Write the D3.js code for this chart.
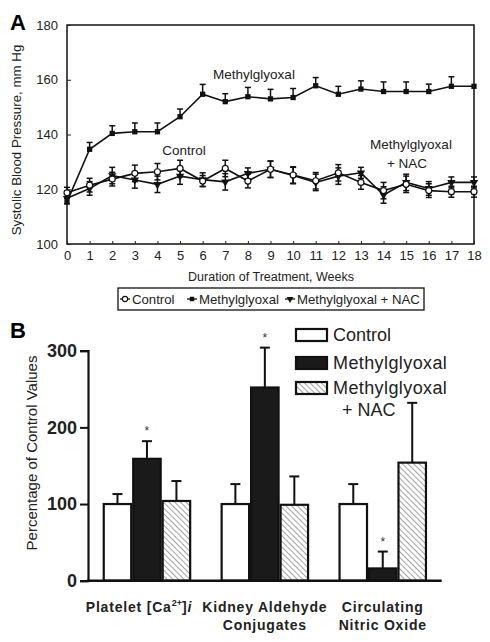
<!DOCTYPE html>
<html><head><meta charset="utf-8">
<script src="https://cdn.jsdelivr.net/npm/d3@7"></script>
<style>
body{margin:0;background:#fff;}
svg{display:block;font-family:"Liberation Sans",Arial,sans-serif;}
</style></head>
<body><svg id="c" width="490" height="642"></svg>
<script>
// ---------- Panel A data ----------
const weeks = [0,1,2,3,4,5,6,7,8,9,10,11,12,13,14,15,16,17,18];
const controlBP = [118.7,121.5,123.7,125.8,126.4,127.6,123,127.6,123,127.3,125.2,123.1,126,122.5,119.5,121.8,119.5,119.1,119.1];
const controlErr = [2,2.5,2.5,3,3,3,2,3,2.5,3,3,3,3,2.5,3,3,2.5,2,2];
const mgBP = [115.4,134.6,140.4,141,141,146.5,154.7,152,153.8,153,153.5,157.8,154.7,156.6,155.7,155.7,155.7,157.6,157.6];
const mgErr = [1.5,2.5,2.8,3.2,3.2,2.8,3.6,2.9,3.4,3.5,3.3,3,2.9,3,3.5,3.5,2.7,3.5,0];
const nacBP = [116.7,120.3,125,123.4,121.8,124.8,123.5,122.7,125.8,127.3,125,122.5,124.8,126,117.9,122.5,120.3,122.5,122.5];
const nacErr = [2,2.5,3,3,3,3,2.5,3,2,3,3,3,3,2,3,3,2.5,2,2];
const yTicksA = [100,120,140,160,180];
const legendA = ["Control","Methylglyoxal","Methylglyoxal + NAC"];

// ---------- Panel B data ----------
const groupsB = ["Platelet","Kidney","Circulating"];
const seriesB = ["Control","Methylglyoxal","Methylglyoxal + NAC"];
const controlPct = [100,100,100];
const controlPctErr = [13,26,26];
const mgPct = [159,252,16];
const mgPctErr = [23,52,22];
const nacPct = [104,99,154];
const nacPctErr = [26,37,78];
const yTicksB = [0,100,200,300];
const starsB = [true,true,true];

const svg = d3.select("#c");

// ================= PANEL A =================
const xA = d3.scaleLinear().domain([0,18]).range([67,474]);
const yA = d3.scaleLinear().domain([100,180]).range([244,25]);

svg.append("text").attr("x",10).attr("y",30).attr("font-size",22).attr("font-weight","bold").text("A");

svg.append("rect").attr("x",xA(0)).attr("y",yA(180)).attr("width",xA(18)-xA(0)).attr("height",yA(100)-yA(180))
  .attr("fill","none").attr("stroke","#111").attr("stroke-width",1.5);

const gyA = svg.append("g").attr("transform",`translate(${xA(0)},0)`)
  .call(d3.axisLeft(yA).tickValues(yTicksA).tickSize(-4).tickPadding(9));
gyA.select(".domain").remove();
gyA.selectAll("text").attr("font-size",13).attr("fill","#222").attr("font-family","Liberation Sans,Arial");
gyA.selectAll("line").attr("stroke","#222");

const gxA = svg.append("g").attr("transform",`translate(0,${yA(100)})`)
  .call(d3.axisBottom(xA).tickValues(weeks).tickSize(-3).tickPadding(7));
gxA.select(".domain").remove();
gxA.selectAll("text").attr("font-size",13).attr("fill","#222").attr("font-family","Liberation Sans,Arial");
gxA.selectAll("line").attr("stroke","#222");

svg.append("text").attr("x",271).attr("y",281).attr("text-anchor","middle").attr("font-size",12.5).attr("fill","#222")
  .text("Duration of Treatment, Weeks");
svg.append("text").attr("transform","translate(21,140) rotate(-90)").attr("text-anchor","middle").attr("font-size",13.3).attr("fill","#222")
  .text("Systolic Blood Pressure, mm Hg");

function errA(vals, errs, both){
  const g = svg.append("g").attr("stroke","#111").attr("stroke-width",1.5);
  weeks.forEach((w,i)=>{
    if(!errs[i]) return;
    const x = xA(w), top = yA(vals[i]+errs[i]), bot = both ? yA(vals[i]-errs[i]) : yA(vals[i]);
    g.append("line").attr("x1",x).attr("x2",x).attr("y1",top).attr("y2",bot);
    g.append("line").attr("x1",x-3).attr("x2",x+3).attr("y1",top).attr("y2",top);
    if(both) g.append("line").attr("x1",x-3).attr("x2",x+3).attr("y1",bot).attr("y2",bot);
  });
}
errA(controlBP, controlErr, true);
errA(nacBP, nacErr, true);
errA(mgBP, mgErr, false);

const lineA = vals => d3.line().x((d,i)=>xA(weeks[i])).y(d=>yA(d))(vals);
[controlBP, nacBP, mgBP].forEach(v=>{
  svg.append("path").attr("d",lineA(v)).attr("fill","none").attr("stroke","#111").attr("stroke-width",1.6);
});

const tri = d3.symbol().type(d3.symbolTriangle).size(30)();
const sq = d3.symbol().type(d3.symbolSquare).size(28)();
function markers(vals, kind){
  weeks.forEach((w,i)=>{
    const x = xA(w), y = yA(vals[i]);
    if(kind==="c") svg.append("circle").attr("cx",x).attr("cy",y).attr("r",3).attr("fill","#fff").attr("stroke","#111").attr("stroke-width",1.2);
    else if(kind==="s") svg.append("path").attr("d",sq).attr("transform",`translate(${x},${y})`).attr("fill","#111");
    else svg.append("path").attr("d",tri).attr("transform",`translate(${x},${y}) rotate(180)`).attr("fill","#111");
  });
}
markers(nacBP,"t");
markers(controlBP,"c");
markers(mgBP,"s");

svg.append("text").attr("x",254).attr("y",79).attr("text-anchor","middle").attr("font-size",13.5).attr("fill","#222").text("Methylglyoxal");
svg.append("text").attr("x",184).attr("y",155).attr("text-anchor","middle").attr("font-size",13.5).attr("fill","#222").text("Control");
svg.append("text").attr("x",411).attr("y",149).attr("text-anchor","middle").attr("font-size",13.5).attr("fill","#222").text("Methylglyoxal");
svg.append("text").attr("x",407).attr("y",168).attr("text-anchor","middle").attr("font-size",13.5).attr("fill","#222").text("+ NAC");

// legend A
svg.append("rect").attr("x",118).attr("y",288).attr("width",306).attr("height",22).attr("fill","#fff").attr("stroke","#111").attr("stroke-width",1.3);
const legX = [125,192,290];
const legKinds = ["c","s","t"];
legendA.forEach((name,i)=>{
  const mx = legX[i], my = 299;
  svg.append("line").attr("x1",mx-5).attr("x2",mx+5).attr("y1",my).attr("y2",my).attr("stroke","#111").attr("stroke-width",1.3);
  if(legKinds[i]==="c") svg.append("circle").attr("cx",mx).attr("cy",my).attr("r",2.6).attr("fill","#fff").attr("stroke","#111").attr("stroke-width",1.1);
  else if(legKinds[i]==="s") svg.append("path").attr("d",d3.symbol().type(d3.symbolSquare).size(20)()).attr("transform",`translate(${mx},${my})`).attr("fill","#111");
  else svg.append("path").attr("d",d3.symbol().type(d3.symbolTriangle).size(20)()).attr("transform",`translate(${mx},${my}) rotate(180)`).attr("fill","#111");
  svg.append("text").attr("x",mx+7).attr("y",my+4.5).attr("font-size",13.2).attr("fill","#222").text(name);
});

// ================= PANEL B =================
svg.append("text").attr("x",10).attr("y",338).attr("font-size",22).attr("font-weight","bold").text("B");

const defs = svg.append("defs");
const pat = defs.append("pattern").attr("id","hatch").attr("patternUnits","userSpaceOnUse").attr("width",4).attr("height",4)
  .attr("patternTransform","rotate(-45)");
pat.append("rect").attr("width",4).attr("height",4).attr("fill","#fff");
pat.append("line").attr("x1",0).attr("y1",0).attr("x2",0).attr("y2",4).attr("stroke","#555").attr("stroke-width",1.1);

const x0 = d3.scaleBand().domain(groupsB).range([88,441.7]).paddingInner(0.25).paddingOuter(0.125);
const x1 = d3.scaleBand().domain(seriesB).range([0,x0.bandwidth()]);
const yB = d3.scaleLinear().domain([0,300]).range([580.7,350.7]);

const fills = {"Control":"#fff","Methylglyoxal":"#1a1a1a","Methylglyoxal + NAC":"url(#hatch)"};
const valsB = {"Control":controlPct,"Methylglyoxal":mgPct,"Methylglyoxal + NAC":nacPct};
const errsB = {"Control":controlPctErr,"Methylglyoxal":mgPctErr,"Methylglyoxal + NAC":nacPctErr};

groupsB.forEach((g,gi)=>{
  seriesB.forEach(s=>{
    const v = valsB[s][gi], e = errsB[s][gi];
    const x = x0(g)+x1(s), w = x1.bandwidth();
    const cx = x + w/2;
    svg.append("line").attr("x1",cx).attr("x2",cx).attr("y1",yB(v)).attr("y2",yB(v+e)).attr("stroke","#111").attr("stroke-width",2);
    svg.append("line").attr("x1",cx-5).attr("x2",cx+5).attr("y1",yB(v+e)).attr("y2",yB(v+e)).attr("stroke","#111").attr("stroke-width",2);
    svg.append("rect").attr("x",x+1).attr("y",yB(v)).attr("width",w-2).attr("height",yB(0)-yB(v))
      .attr("fill",fills[s]).attr("stroke","#111").attr("stroke-width",2.2);
    if(s==="Methylglyoxal" && starsB[gi]){
      svg.append("text").attr("x",cx).attr("y",yB(v+e)-6).attr("text-anchor","middle").attr("font-size",12).attr("fill","#333").text("*");
    }
  });
});

const gyB = svg.append("g").attr("transform","translate(88,0)")
  .call(d3.axisLeft(yB).tickValues(yTicksB).tickSize(8).tickPadding(3));
gyB.select(".domain").attr("stroke","#111").attr("stroke-width",2.2);
gyB.selectAll("line").attr("stroke","#111").attr("stroke-width",2);
gyB.selectAll("text").attr("font-size",18).attr("font-weight","bold").attr("fill","#222").attr("font-family","Liberation Sans,Arial");
svg.append("line").attr("x1",87).attr("x2",441.7).attr("y1",yB(0)).attr("y2",yB(0)).attr("stroke","#111").attr("stroke-width",2.4);

svg.append("text").attr("transform","translate(37,453) rotate(-90)").attr("text-anchor","middle").attr("font-size",15).attr("fill","#222")
  .text("Percentage of Control Values");

const lab = svg.append("g").attr("font-size",14).attr("font-weight","bold").attr("fill","#222").attr("letter-spacing",0.8).attr("text-anchor","middle");
const c0 = x0(groupsB[0])+x0.bandwidth()/2, c1 = x0(groupsB[1])+x0.bandwidth()/2, c2 = x0(groupsB[2])+x0.bandwidth()/2;
const t0 = lab.append("text").attr("x",c0-8).attr("y",612);
t0.append("tspan").text("Platelet [Ca");
t0.append("tspan").attr("font-size",9).attr("dy",-6).attr("letter-spacing",0).text("2+");
t0.append("tspan").attr("dy",6).text("]");
t0.append("tspan").attr("font-style","italic").text("i");
lab.append("text").attr("x",c1).attr("y",612).text("Kidney Aldehyde");
lab.append("text").attr("x",c1).attr("y",630).text("Conjugates");
lab.append("text").attr("x",c2).attr("y",612).text("Circulating");
lab.append("text").attr("x",c2).attr("y",630).text("Nitric Oxide");

const legBY = [335,363,388];
seriesB.forEach((s,i)=>{
  svg.append("rect").attr("x",296).attr("y",legBY[i]-6).attr("width",31).attr("height",12)
    .attr("fill",fills[s]).attr("stroke","#111").attr("stroke-width",2.2);
});
svg.append("text").attr("x",333).attr("y",341).attr("font-size",18).attr("fill","#222").text("Control");
svg.append("text").attr("x",333).attr("y",369).attr("font-size",18).attr("fill","#222").attr("letter-spacing",0.4).text("Methylglyoxal");
svg.append("text").attr("x",333).attr("y",394).attr("font-size",18).attr("fill","#222").attr("letter-spacing",0.4).text("Methylglyoxal");
svg.append("text").attr("x",342).attr("y",416).attr("font-size",18).attr("fill","#222").text("+ NAC");
</script></body></html>
